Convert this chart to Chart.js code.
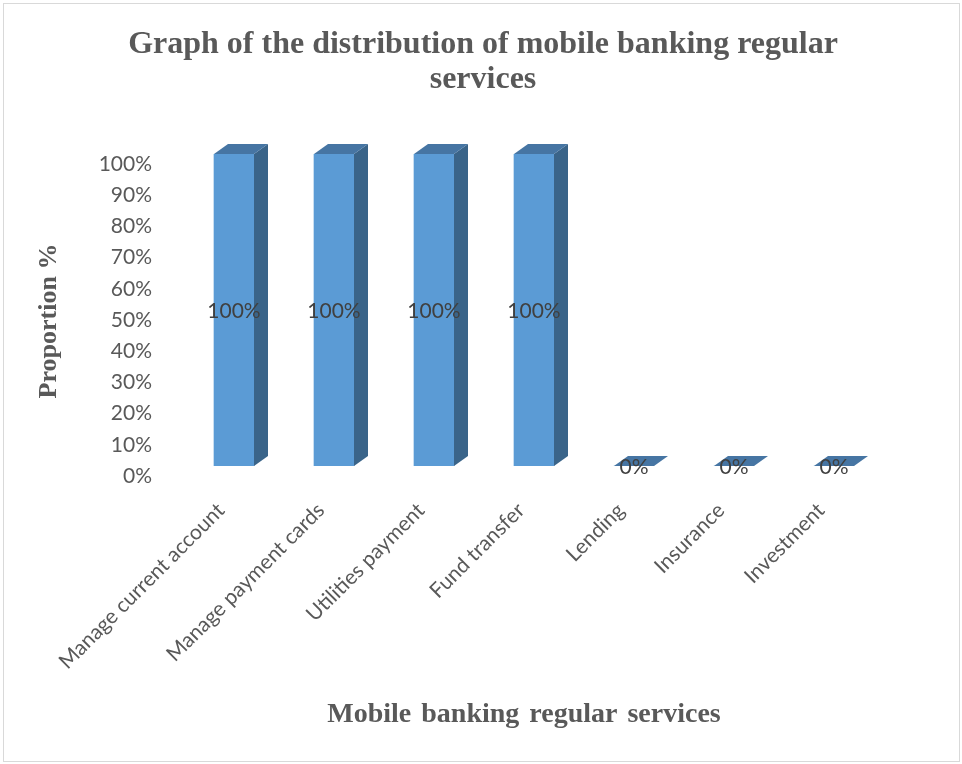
<!DOCTYPE html>
<html>
<head>
<meta charset="utf-8">
<title>Mobile banking regular services</title>
<script src="https://cdn.jsdelivr.net/npm/chart.js@4.4.1/dist/chart.umd.min.js"></script>
<style>
  html, body { margin: 0; padding: 0; background: #fff; }
  #wrap { width: 962px; height: 764px; position: relative; }
</style>
</head>
<body>
<div id="wrap"><canvas id="chartServices" width="962" height="764"></canvas></div>
<script>
/* =============================================
   DATA
   ============================================= */
const services = [
  'Manage current account',
  'Manage payment cards',
  'Utilities payment',
  'Fund transfer',
  'Lending',
  'Insurance',
  'Investment'
];
const proportions = [100, 100, 100, 100, 0, 0, 0];
const yTicks = [0, 10, 20, 30, 40, 50, 60, 70, 80, 90, 100];

const chartTitle = ['Graph of the distribution of mobile banking regular', 'services'];
const yTitle = 'Proportion %';
const xTitle = 'Mobile banking regular services';

/* =============================================
   STYLE
   ============================================= */
const FRONT = '#5B9BD5';
const SIDE = '#3A6489';
const TOP = '#4675A3';
const TEXT = '#595959';
const LABEL = '#404040';
const DEPTH_X = 14;   // 3D depth offset
const DEPTH_Y = -10;
const TICK_FONT = { family: 'Lato', size: 21 };
const TITLE_FAMILY = '"Liberation Serif", "Times New Roman", serif';

/* frame, titles (drawn straight on the canvas) */
const frameAndTitles = {
  id: 'frameAndTitles',
  beforeDraw(chart) {
    const ctx = chart.ctx;
    ctx.save();
    ctx.fillStyle = '#fff';
    ctx.fillRect(0, 0, chart.width, chart.height);
    ctx.strokeStyle = '#D9D9D9';
    ctx.lineWidth = 1;
    ctx.strokeRect(3.5, 3.5, 956, 758);
    ctx.restore();
  },
  afterDraw(chart) {
    const ctx = chart.ctx;
    ctx.save();
    ctx.fillStyle = TEXT;
    ctx.textAlign = 'center';
    ctx.textBaseline = 'alphabetic';

    ctx.font = 'bold 32px ' + TITLE_FAMILY;
    ctx.fillText(chartTitle[0], 483, 53);
    ctx.fillText(chartTitle[1], 483, 88);

    ctx.font = 'bold 28px ' + TITLE_FAMILY;
    ctx.wordSpacing = '3px';
    ctx.fillText(xTitle, 524, 722);
    ctx.wordSpacing = '0px';

    ctx.font = 'bold 26px ' + TITLE_FAMILY;
    ctx.translate(56, 321);
    ctx.rotate(-Math.PI / 2);
    ctx.fillText(yTitle, 0, 0);
    ctx.restore();
  }
};

/* side + top faces on each bar, then the value labels */
const bars3d = {
  id: 'bars3d',
  afterDatasetsDraw(chart) {
    const ctx = chart.ctx;
    const meta = chart.getDatasetMeta(0);
    ctx.save();
    meta.data.forEach(bar => {
      const { x, y, base, width } = bar.getProps(['x', 'y', 'base', 'width'], true);
      const l = x - width / 2, r = x + width / 2;

      // right side face
      ctx.fillStyle = SIDE;
      ctx.beginPath();
      ctx.moveTo(r, y);
      ctx.lineTo(r + DEPTH_X, y + DEPTH_Y);
      ctx.lineTo(r + DEPTH_X, base + DEPTH_Y);
      ctx.lineTo(r, base);
      ctx.closePath();
      ctx.fill();

      // top face
      ctx.fillStyle = TOP;
      ctx.beginPath();
      ctx.moveTo(l, y);
      ctx.lineTo(l + DEPTH_X, y + DEPTH_Y);
      ctx.lineTo(r + DEPTH_X, y + DEPTH_Y);
      ctx.lineTo(r, y);
      ctx.closePath();
      ctx.fill();
    });

    ctx.fillStyle = LABEL;
    ctx.font = TICK_FONT.size + 'px ' + TICK_FONT.family;
    ctx.textAlign = 'center';
    ctx.textBaseline = 'middle';
    meta.data.forEach((bar, i) => {
      const { x, y, base } = bar.getProps(['x', 'y', 'base'], true);
      ctx.fillText(proportions[i] + '%', x, (y + base) / 2 + 1);
    });
    ctx.restore();
  }
};

/* =============================================
   CHART
   ============================================= */
const ctx = document.getElementById('chartServices').getContext('2d');

new Chart(ctx, {
  type: 'bar',
  data: {
    labels: services,
    datasets: [{
      label: 'Proportion',
      data: proportions,
      backgroundColor: FRONT,
      borderWidth: 0,
      barThickness: 40
    }]
  },
  options: {
    responsive: false,
    animation: false,
    devicePixelRatio: 1,
    layout: { padding: { left: 0, top: 154, right: 78, bottom: 0 } },
    plugins: {
      legend: { display: false },
      tooltip: { enabled: false },
      title: { display: false }
    },
    scales: {
      y: {
        min: 0,
        max: 100,
        afterFit: s => { s.width = 184; },
        afterBuildTicks: s => { s.ticks = yTicks.map(v => ({ value: v })); },
        grid: { display: false, drawTicks: false },
        border: { display: false },
        ticks: {
          color: TEXT,
          font: TICK_FONT,
          padding: 32,
          labelOffset: 10,
          callback: v => v + '%'
        }
      },
      x: {
        afterFit: s => { s.height = 298; },
        grid: { display: false, drawTicks: false },
        border: { display: false },
        ticks: {
          color: TEXT,
          font: TICK_FONT,
          autoSkip: false,
          maxRotation: 45,
          minRotation: 45,
          padding: 32,
          labelOffset: -13
        }
      }
    }
  },
  plugins: [frameAndTitles, bars3d]
});
</script>
</body>
</html>
